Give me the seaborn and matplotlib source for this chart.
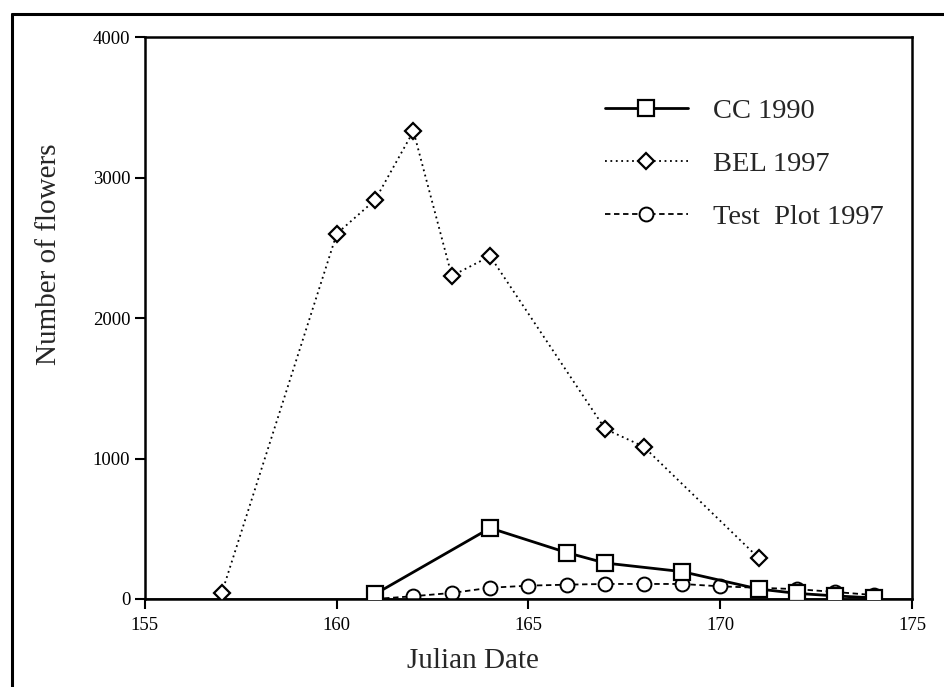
import matplotlib
matplotlib.use("Agg")
import matplotlib.pyplot as plt
import seaborn as sns
import pandas as pd
from matplotlib.lines import Line2D

sns.set_theme(style="ticks")
plt.rcParams['font.family'] = ['Liberation Serif', 'DejaVu Serif']

cc_days = [161, 164, 166, 167, 169, 171, 172, 173, 174]
cc_vals = [35, 505, 330, 256, 195, 71, 40, 22, 8]

bel_days = [157, 160, 161, 162, 163, 164, 167, 168, 171]
bel_vals = [40, 2600, 2840, 3330, 2300, 2440, 1210, 1085, 292]

tp_days = [161, 162, 163, 164, 165, 166, 167, 168, 169, 170, 171, 172, 173, 174]
tp_vals = [0, 20, 43, 80, 95, 102, 107, 107, 107, 90, 80, 70, 50, 28]

x_ticks = [155, 160, 165, 170, 175]
y_ticks = [0, 1000, 2000, 3000, 4000]

labels = ["CC 1990", "BEL 1997", "Test  Plot 1997"]

fig = plt.figure(figsize=(9.45, 6.87), dpi=100)
ax = fig.add_axes([0.1534, 0.1281, 0.8117, 0.818])

df_cc = pd.DataFrame({"day": cc_days, "n": cc_vals})
df_bel = pd.DataFrame({"day": bel_days, "n": bel_vals})
df_tp = pd.DataFrame({"day": tp_days, "n": tp_vals})

sns.lineplot(data=df_tp, x="day", y="n", ax=ax, color="black", linestyle=(0, (3, 2)),
             linewidth=1.3, marker="o", markersize=10, markerfacecolor="white",
             markeredgecolor="black", markeredgewidth=1.4, label=labels[2], zorder=2)
sns.lineplot(data=df_bel, x="day", y="n", ax=ax, color="black", linestyle=(0, (1, 2)),
             linewidth=1.3, marker="D", markersize=8, markerfacecolor="white",
             markeredgecolor="black", markeredgewidth=1.6, label=labels[1], zorder=3)
sns.lineplot(data=df_cc, x="day", y="n", ax=ax, color="black", linestyle="-",
             linewidth=2.0, marker="s", markersize=11, markerfacecolor="white",
             markeredgecolor="black", markeredgewidth=1.6, label=labels[0], zorder=4)

ax.set_xlim(155, 175)
ax.set_ylim(0, 4000)
ax.set_xticks(x_ticks)
ax.set_yticks(y_ticks)
ax.tick_params(axis="both", direction="out", length=7, width=1.5, labelsize=13.5,
               colors="black")
ax.tick_params(axis="x", pad=6)
for s in ax.spines.values():
    s.set_visible(True)
    s.set_linewidth(1.8)
    s.set_color("black")
ax.axhline(0, color="black", linewidth=1.8, zorder=1)

ax.set_xlabel("Julian Date", fontsize=21)
ax.set_ylabel("Number of flowers", fontsize=21)
ax.xaxis.set_label_coords(0.428, -0.087)
ax.yaxis.set_label_coords(-0.108, 0.614)

handles, lbls = ax.get_legend_handles_labels()
order = [lbls.index(l) for l in labels]
leg = ax.legend([handles[i] for i in order], [lbls[i] for i in order],
                loc="upper left", bbox_to_anchor=(0.585, 0.912), frameon=False,
                fontsize=20.5, handlelength=2.9, handletextpad=0.9, labelspacing=0.95,
                borderaxespad=0.0)

fig.add_artist(Line2D([12 / 945, 12 / 945], [0, 1 - 14 / 687], transform=fig.transFigure,
                      color="black", linewidth=2.2))
fig.add_artist(Line2D([12 / 945, 1], [1 - 14 / 687, 1 - 14 / 687], transform=fig.transFigure,
                      color="black", linewidth=2.2))

fig.savefig("out.png", dpi=100)
